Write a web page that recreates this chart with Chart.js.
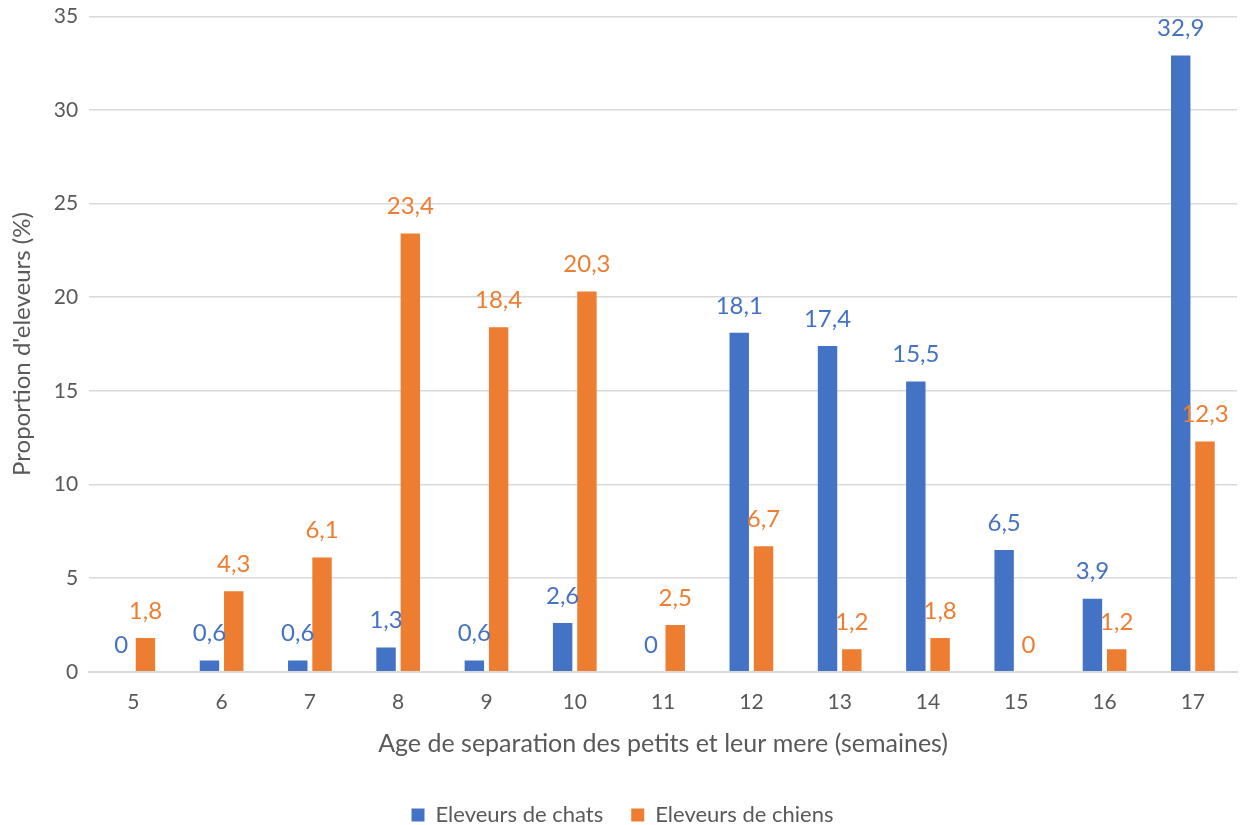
<!DOCTYPE html>
<html><head><meta charset="utf-8">
<script src="https://cdn.jsdelivr.net/npm/chart.js@4/dist/chart.umd.min.js"></script>
<style>html,body{margin:0;padding:0;background:#fff}#wrap{width:1241px;height:825px}</style>
</head><body><div id="wrap"><canvas id="c" width="1241" height="825"></canvas></div>
<script>
const categories = ["5","6","7","8","9","10","11","12","13","14","15","16","17"];
const chats = [0,0.6,0.6,1.3,0.6,2.6,0,18.1,17.4,15.5,6.5,3.9,32.9];
const chiens = [1.8,4.3,6.1,23.4,18.4,20.3,2.5,6.7,1.2,1.8,0,1.2,12.3];
const seriesNames = ["Eleveurs de chats","Eleveurs de chiens"];
const FONT = "Lato, 'Open Sans', sans-serif";

const labelPlugin = {
  id: 'vlabels',
  afterDatasetsDraw(chart) {
    const ctx = chart.ctx;
    ctx.save();
    ctx.font = "24px " + FONT;
    ctx.textAlign = 'center';
    ctx.textBaseline = 'middle';
    chart.data.datasets.forEach((ds, i) => {
      const meta = chart.getDatasetMeta(i);
      ctx.fillStyle = ds.backgroundColor;
      meta.data.forEach((el, j) => {
        ctx.fillText(String(ds.data[j]).replace('.', ','), el.x, el.y - 27);
      });
    });
    ctx.restore();
  }
};

new Chart(document.getElementById('c'), {
  type: 'bar',
  data: {
    labels: categories,
    datasets: [
      {label: seriesNames[0], data: chats, backgroundColor: '#4472C4', categoryPercentage: 0.55, barPercentage: 0.8},
      {label: seriesNames[1], data: chiens, backgroundColor: '#ED7D31', categoryPercentage: 0.55, barPercentage: 0.8}
    ]
  },
  options: {
    responsive: false,
    animation: false,
    layout: {padding: {top: 0, right: 4, left: 8, bottom: 0}},
    plugins: {
      legend: {
        position: 'bottom',
        maxHeight: 49,
        labels: {font: {size: 22, family: FONT}, color: '#595959', boxWidth: 13, boxHeight: 13, padding: 28}
      },
      tooltip: {enabled: false}
    },
    scales: {
      x: {
        grid: {display: false},
        border: {display: true, color: '#d9d9d9', width: 2},
        ticks: {font: {size: 21, family: FONT}, color: '#595959', padding: 10},
        title: {display: true, text: 'Age de separation des petits et leur mere (semaines)', font: {size: 25, family: FONT}, color: '#595959', padding: {top: 4, bottom: 17}}
      },
      y: {
        min: 0, max: 35,
        ticks: {stepSize: 5, font: {size: 21, family: FONT, lineHeight: 0.5}, color: '#595959', padding: 11},
        grid: {color: '#d9d9d9', lineWidth: 1.5, drawTicks: false},
        border: {display: false},
        title: {display: true, text: "Proportion d'eleveurs (%)", font: {size: 24, family: FONT}, color: '#595959', padding: {top: 0, bottom: 6}}
      }
    }
  },
  plugins: [labelPlugin]
});
</script></body></html>
